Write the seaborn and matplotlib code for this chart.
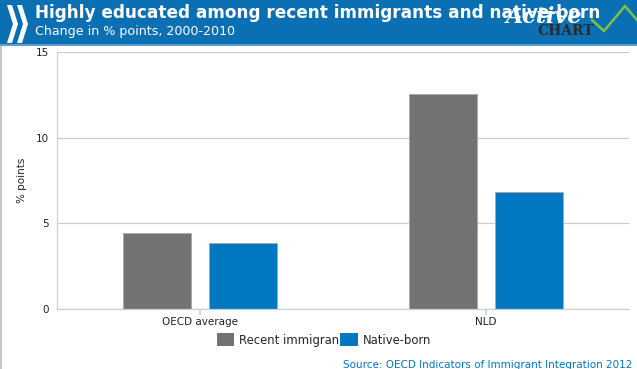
import matplotlib
matplotlib.use("Agg")
import matplotlib.pyplot as plt
import seaborn as sns
import pandas as pd
from matplotlib.patches import Polygon, Rectangle, FancyBboxPatch
from matplotlib.lines import Line2D

categories = ["OECD average", "NLD"]
series_names = ["Recent immigrants", "Native-born"]
recent_immigrants = [4.45, 12.55]
native_born = [3.85, 6.8]
y_ticks = [0, 5, 10, 15]

df = pd.DataFrame({
    "category": categories * 2,
    "series": [series_names[0]] * 2 + [series_names[1]] * 2,
    "value": recent_immigrants + native_born,
})

sns.set_theme(style="white")
plt.rcParams['font.family'] = ['DejaVu Sans']

W, H = 637, 369
fig = plt.figure(figsize=(W / 100, H / 100), dpi=100)
ax = fig.add_axes([57 / W, 1 - 309 / H, 572 / W, 257 / H])

palette = {"Recent immigrants": "#737373", "Native-born": "#0077c0"}
sns.barplot(data=df, x="category", y="value", hue="series", order=categories,
            hue_order=series_names, palette=palette, width=0.60, gap=0.21,
            ax=ax, legend=False, saturation=1, edgecolor="#a8a8a8", linewidth=0.6)

ax.set_xlim(-0.5, 1.5)
ax.set_ylim(0, 15)
ax.set_yticks(y_ticks)
ax.yaxis.grid(True, color="#cccccc", linewidth=0.9)
ax.set_axisbelow(True)
for s in ["top", "right"]:
    ax.spines[s].set_visible(False)
for s in ["left", "bottom"]:
    ax.spines[s].set_color("#c8d0d8")
    ax.spines[s].set_linewidth(0.9)
ax.tick_params(axis="x", bottom=True, length=4, color="#c8d0d8", labelsize=7.5, pad=2, labelcolor="#222222")
ax.tick_params(axis="y", left=True, length=0, labelsize=7.5, pad=6, labelcolor="#222222")
ax.set_xlabel("")
ax.set_ylabel("% points", fontsize=7.5, color="#222222")
ax.yaxis.set_label_coords(-0.053, 0.5)

# Legend
handles = [FancyBboxPatch((0, 0), 1, 1, boxstyle="round,pad=0.05", facecolor=palette[n], edgecolor="none") for n in series_names]
fig.legend(handles, ["Recent immigran", "Native-born"], loc="center", bbox_to_anchor=(324 / W, 1 - 340 / H),
           ncol=2, frameon=False, fontsize=8.4, handlelength=1.5, handleheight=1.35,
           handletextpad=0.45, columnspacing=0.05)

# Header band
fig.patches.append(Rectangle((0, 1 - 44 / H), 1, 44 / H, transform=fig.transFigure,
                             facecolor="#0b6fb3", edgecolor="none", zorder=0))
fig.patches.append(Rectangle((0, 1 - 46 / H), 1, 2 / H, transform=fig.transFigure,
                             facecolor="#5a9fd0", edgecolor="none", zorder=0))
fig.patches.append(Rectangle((0, 0), 2 / W, 1 - 46 / H, transform=fig.transFigure,
                             facecolor="#c8c8c8", edgecolor="none", zorder=0))


def fx(x):
    return x / W


def fy(y):
    return 1 - y / H


for x0 in (7, 17):
    pts = [(x0, 5), (x0 + 5, 5), (x0 + 11, 24), (x0 + 5, 43), (x0, 43), (x0 + 6, 24)]
    fig.patches.append(Polygon([(fx(a), fy(b)) for a, b in pts], closed=True,
                               transform=fig.transFigure, facecolor="white", edgecolor="none"))

fig.text(fx(35), fy(13), "Highly educated among recent immigrants and native-born",
         color="white", fontsize=12.2, fontweight="bold", va="center", ha="left")
fig.text(fx(35), fy(31), "Change in % points, 2000-2010", color="white", fontsize=9.1,
         va="center", ha="left")

# ActiveChart logo approximation
zig = [(592, 20), (604, 31), (625, 6), (637, 20)]
fig.lines.append(Line2D([fx(a) for a, b in zig], [fy(b) for a, b in zig],
                        transform=fig.transFigure, color="#7cc242", linewidth=1.8))
fig.text(fx(506), fy(17), "Active", color="white", fontsize=16, fontweight="bold",
         style="italic", va="center", ha="left", family="DejaVu Serif")
fig.text(fx(537), fy(31), "CHART", color="#2b2b2b", fontsize=10, fontweight="bold",
         va="center", ha="left", family="DejaVu Serif")

fig.text(fx(632), fy(365), "Source: OECD Indicators of Immigrant Integration 2012",
         color="#0077c0", fontsize=7.5, ha="right", va="center")

fig.savefig("out.png", dpi=100, facecolor="white")
